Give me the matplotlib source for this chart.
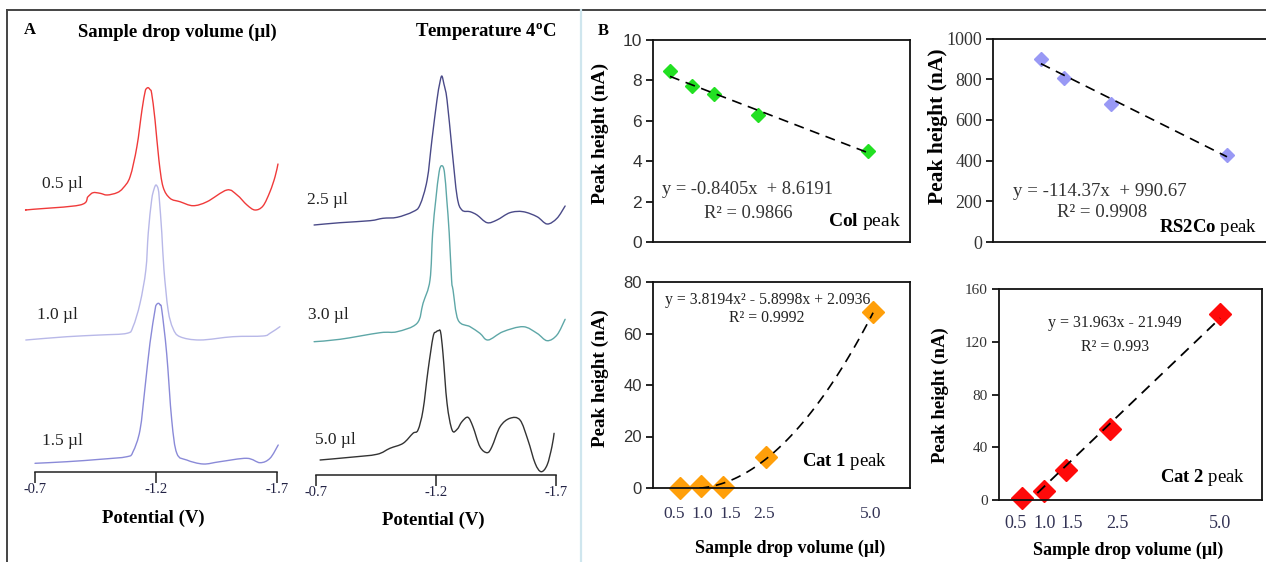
import numpy as np
import matplotlib
matplotlib.use("Agg")
import matplotlib.pyplot as plt
from matplotlib.lines import Line2D
from matplotlib.path import Path
from matplotlib.patches import PathPatch

plt.rcParams['font.family'] = ['Liberation Serif', 'DejaVu Serif']
plt.rcParams['mathtext.fontset'] = 'custom'
plt.rcParams['mathtext.rm'] = 'Liberation Serif'
plt.rcParams['mathtext.bf'] = 'Liberation Serif:bold'
plt.rcParams['mathtext.it'] = 'Liberation Serif:italic'

# ---------------- Panel A data (potential V, current a.u.) ----------------
pot_05 = [-0.662, -0.692, -0.886, -0.919, -0.940, -0.969, -0.998, -1.039, -1.064, -1.093,
          -1.121, -1.142, -1.155, -1.161, -1.168, -1.175, -1.182, -1.196, -1.212, -1.229,
          -1.258, -1.299, -1.353, -1.411, -1.493, -1.535, -1.576, -1.609, -1.642, -1.671,
          -1.692, -1.704]
cur_05 = [262, 262.7, 267, 275.3, 279.3, 278.7, 277, 279.3, 284, 295.3,
          325.3, 362, 380.3, 383.5, 384.3, 382.5, 378.7, 352, 312, 285.3,
          273.7, 270.3, 266.3, 270.3, 282, 277, 267, 262, 266, 280.3,
          295.3, 308]

pot_10 = [-0.662, -0.832, -0.969, -1.080, -1.105, -1.134, -1.158, -1.168, -1.182, -1.192,
          -1.200, -1.209, -1.214, -1.224, -1.233, -1.250, -1.270, -1.299, -1.382, -1.518,
          -1.642, -1.671, -1.712]
cur_10 = [132, 135.3, 137, 138.7, 145.3, 168.7, 202, 239, 272, 283,
          287, 283, 272, 239, 202, 162, 143.7, 135.3, 132, 135.3,
          136, 138.7, 145.3]

pot_15 = [-0.700, -0.832, -0.969, -1.080, -1.105, -1.134, -1.155, -1.175, -1.196, -1.201,
          -1.210, -1.217, -1.224, -1.244, -1.265, -1.286, -1.327, -1.395, -1.464, -1.575,
          -1.630, -1.671, -1.705]
cur_15 = [8.7, 10.3, 12.7, 15.3, 20.3, 42, 85.3, 128.7, 162, 167,
          168.7, 167, 162, 118.7, 52, 18.7, 12, 8, 10.3, 13.7,
          9.3, 13.7, 27]

pot_25 = [-0.692, -0.800, -0.925, -0.979, -1.038, -1.104, -1.133, -1.163, -1.183, -1.204,
          -1.215, -1.224, -1.233, -1.246, -1.267, -1.288, -1.308, -1.342, -1.371, -1.413,
          -1.454, -1.508, -1.563, -1.621, -1.663, -1.704, -1.738]
cur_25 = [250, 252.3, 254.3, 256.7, 257.7, 263.3, 270, 295, 335, 375,
          391, 399, 391, 375, 325, 278.3, 265, 263.3, 260, 252.3,
          255, 262.3, 263.3, 258.3, 251, 256.7, 269]

pot_30 = [-0.692, -0.800, -0.967, -1.038, -1.121, -1.146, -1.175, -1.186, -1.199, -1.213,
          -1.224, -1.235, -1.245, -1.255, -1.265, -1.271, -1.292, -1.342, -1.383, -1.417,
          -1.479, -1.563, -1.621, -1.663, -1.704, -1.738]
cur_30 = [133.3, 135.7, 142.3, 143.3, 151.7, 171.7, 195, 242, 275, 303,
          309.3, 303, 275, 242, 195, 185, 155, 148.3, 141.7, 135,
          143.3, 148.3, 141.7, 134.3, 140, 155.7]

pot_50 = [-0.717, -0.842, -0.954, -1.008, -1.063, -1.104, -1.125, -1.146, -1.167, -1.188,
          -1.200, -1.210, -1.219, -1.229, -1.246, -1.267, -1.288, -1.308, -1.333, -1.354,
          -1.383, -1.413, -1.433, -1.467, -1.508, -1.550, -1.583, -1.613, -1.638, -1.663,
          -1.683, -1.692]
cur_50 = [15, 17.7, 20.7, 26.7, 31.7, 41.7, 45, 65, 105, 138.3,
          143, 144.3, 143, 121.7, 71.7, 45, 45.7, 53.3, 57.7, 48.3,
          28.3, 22.3, 28.3, 48.3, 56.7, 55, 35, 11.7, 3.3, 10,
          28.3, 41.7]

left_labels = ["0.5 µl", "1.0 µl", "1.5 µl"]
right_labels = ["2.5 µl", "3.0 µl", "5.0 µl"]
pot_ticks = [-0.7, -1.2, -1.7]
pot_ticklabels = ["-0.7", "-1.2", "-1.7"]

# ---------------- Panel B data ----------------
vol_col = [0.5, 1.0, 1.5, 2.5, 5.0]
col_peak = [8.45, 7.7, 7.35, 6.3, 4.5]
vol_rs2co = [1.0, 1.5, 2.5, 5.0]
rs2co_peak = [900, 805, 680, 428]
vol_cat = [0.5, 1.0, 1.5, 2.5, 5.0]
cat1_peak = [0.0, 0.8, 0.4, 12.0, 68.3]
cat2_peak = [1.5, 6.5, 22.5, 53.5, 141]
vol_ticklabels = ["0.5", "1.0", "1.5", "2.5", "5.0"]

col_fit = (-0.8405, 8.6191)
rs2co_fit = (-114.37, 990.67)
cat1_fit = (3.8194, -5.8998, 2.0936)
cat2_fit = (31.963, -21.949)

W, H = 1266, 562
fig = plt.figure(figsize=(W / 100, H / 100), dpi=100)


def rect(l, t, r, b):
    return [l / W, 1 - b / H, (r - l) / W, (b - t) / H]


def ftxt(x, y, s, **kw):
    return fig.text(x / W, 1 - y / H, s, **kw)


def smooth_line(ax, xs, ys, color, lw=1.0):
    """Draw the read points joined by a smooth (Catmull-Rom style) Bezier path."""
    p = np.column_stack([xs, ys]).astype(float)
    n = len(p)
    verts = [p[0]]
    codes = [Path.MOVETO]
    for i in range(n - 1):
        p0 = p[i - 1] if i > 0 else p[i]
        p1 = p[i]
        p2 = p[i + 1]
        p3 = p[i + 2] if i + 2 < n else p[i + 1]
        c1 = p1 + (p2 - p0) / 6.0
        c2 = p2 - (p3 - p1) / 6.0
        verts += [c1, c2, p2]
        codes += [Path.CURVE4] * 3
    patch = PathPatch(Path(verts, codes), fill=False, edgecolor=color, lw=lw,
                      clip_on=False, capstyle='round', joinstyle='round')
    ax.add_patch(patch)


# frame lines
fig.add_artist(Line2D([7 / W, 1], [1 - 10 / H, 1 - 10 / H], color='#444444', lw=1.4))
fig.add_artist(Line2D([7 / W, 7 / W], [0, 1 - 10 / H], color='#444444', lw=1.4))
fig.add_artist(Line2D([581 / W, 581 / W], [0, 1 - 10 / H], color='#cfe6ee', lw=1.6))

# ---------------- Panel A ----------------
def volt_axes(l, r, px0, px1, top, bottom):
    ax = fig.add_axes(rect(l, top, r, bottom))
    scale = (px1 - px0) / 1.0
    ax.set_xlim(-0.7 - (l - px0) / scale, -0.7 - (r - px0) / scale)
    ax.set_ylim(0, bottom - top)
    for s in ['top', 'right', 'left']:
        ax.spines[s].set_visible(False)
    ax.spines['bottom'].set_bounds(-1.7, -0.7)
    ax.spines['bottom'].set_linewidth(1.1)
    ax.spines['bottom'].set_color('#222222')
    ax.set_yticks([])
    ax.set_xticks(pot_ticks)
    ax.set_xticklabels(pot_ticklabels, fontsize=10.5, color='#222244')
    ax.tick_params(axis='x', direction='out', length=8, width=1.1, pad=0, color='#222222')
    ax.patch.set_alpha(0)
    return ax


axL = volt_axes(20, 290, 35, 277, 60, 472)
smooth_line(axL, pot_05, cur_05, '#f03a3a')
smooth_line(axL, pot_10, cur_10, '#b8b8e8')
smooth_line(axL, pot_15, cur_15, '#8a8ad8')

axR = volt_axes(300, 575, 316, 556, 60, 475)
smooth_line(axR, pot_25, cur_25, '#4a4a88')
smooth_line(axR, pot_30, cur_30, '#5ea7a7')
smooth_line(axR, pot_50, cur_50, '#333333')

ftxt(30, 30, "A", fontsize=12, fontweight='bold', ha='center', va='center')
ftxt(177, 32, "Sample drop volume (µl)", fontsize=13.5, fontweight='bold', ha='center', va='center')
ftxt(557, 31, r"Temperature 4$^{\mathbf{o}}$C", fontsize=13.5, fontweight='bold', ha='right', va='center')

for (x, y), s in zip([(42, 184), (37, 315), (42, 441)], left_labels):
    ftxt(x, y, s, fontsize=12.5, ha='left', va='center', color='#222222')
for (x, y), s in zip([(307, 200), (308, 315), (315, 440)], right_labels):
    ftxt(x, y, s, fontsize=12.5, ha='left', va='center', color='#222222')

ftxt(153, 518, "Potential (V)", fontsize=13.5, fontweight='bold', ha='center', va='center')
ftxt(433, 520, "Potential (V)", fontsize=13.5, fontweight='bold', ha='center', va='center')

# ---------------- Panel B ----------------
ftxt(603, 31, "B", fontsize=12, fontweight='bold', ha='center', va='center')

dash = (0, (6, 4))


def style_b(ax, ylim, yticks, tickfont, tickfs):
    ax.set_ylim(*ylim)
    ax.set_yticks(yticks)
    ax.set_yticklabels([str(v) for v in yticks], family=tickfont, fontsize=tickfs, color='#333333')
    ax.tick_params(axis='y', direction='out', length=5, width=1.2, pad=3)
    for s in ax.spines.values():
        s.set_linewidth(1.3)
        s.set_color('#111111')


# Col peak
ax1 = fig.add_axes(rect(653, 40, 910, 242))
ax1.set_xlim(0.114, 5.95)
ax1.set_xticks([])
style_b(ax1, (0, 10), [0, 2, 4, 6, 8, 10], ['Liberation Sans'], 12.5)
ax1.plot(vol_col, col_peak, ls='none', marker='D', ms=7, color='#22e022', mec='#22e022')
xf = np.array([vol_col[0], vol_col[-1]])
ax1.plot(xf, col_fit[0] * xf + col_fit[1], color='black', lw=1.2, ls=dash, zorder=3)
ftxt(600, 133, "Peak height (nA)", fontsize=14, fontweight='bold', rotation=90, ha='center', va='center')
ftxt(747, 190, "y = -0.8405x  + 8.6191", fontsize=13.3, ha='center', va='center', color='#333333')
ftxt(748, 214, "R² = 0.9866", fontsize=13.3, ha='center', va='center', color='#333333')
ftxt(901, 222, r"$\mathbf{Col}$ peak", fontsize=14, ha='right', va='center')

# RS2Co peak
ax2 = fig.add_axes(rect(993, 38.5, 1275, 242))
ax2.set_xlim(-0.03, (1275 - 994.5) / 46.5)
ax2.set_xticks([])
style_b(ax2, (0, 1000), [0, 200, 400, 600, 800, 1000], ['Liberation Serif'], 13)
ax2.plot(vol_rs2co, rs2co_peak, ls='none', marker='D', ms=7, color='#9999f5', mec='#9999f5')
xf = np.array([vol_rs2co[0], vol_rs2co[-1]])
ax2.plot(xf, rs2co_fit[0] * xf + rs2co_fit[1], color='black', lw=1.2, ls=dash, zorder=3)
ftxt(938, 126, "Peak height (nA)", fontsize=15.5, fontweight='bold', rotation=90, ha='center', va='center')
ftxt(1100, 192, "y = -114.37x  + 990.67", fontsize=13.6, ha='center', va='center', color='#333333')
ftxt(1102, 213, "R² = 0.9908", fontsize=13.6, ha='center', va='center', color='#333333')
ftxt(1257, 228, r"$\mathbf{RS2Co}$ peak", fontsize=13.5, ha='right', va='center')

# Cat 1 peak
ax3 = fig.add_axes(rect(653, 282, 910, 488))
ax3.set_xlim(-0.13, 5.86)
style_b(ax3, (0, 80), [0, 20, 40, 60, 80], ['Liberation Sans'], 12)
cat1_label_pos = [0.36, 1.02, 1.68, 2.45, 4.95]
ax3.set_xticks(cat1_label_pos)
ax3.set_xticklabels(vol_ticklabels, fontsize=12.5, color='#333355')
ax3.tick_params(axis='x', length=0, pad=13)
ax3.plot(vol_cat, cat1_peak, ls='none', marker='D', ms=11.5, color='#ff9f0a', mec='#ff9f0a', clip_on=False)
xf = np.linspace(0.95, 5.0, 60)
ax3.plot(xf, cat1_fit[0] * xf ** 2 + cat1_fit[1] * xf + cat1_fit[2], color='black', lw=1.2, ls=dash, zorder=3)
ftxt(600, 378, "Peak height (nA)", fontsize=13.8, fontweight='bold', rotation=90, ha='center', va='center')
ftxt(665, 300, "y = 3.8194x² - 5.8998x + 2.0936", fontsize=11.3, ha='left', va='center', color='#222222')
ftxt(767, 318, "R² = 0.9992", fontsize=11.3, ha='center', va='center', color='#222222')
ftxt(887, 462, r"$\mathbf{Cat\ 1}$ peak", fontsize=13.5, ha='right', va='center')
ftxt(790, 548, "Sample drop volume (µl)", fontsize=13, fontweight='bold', ha='center', va='center')

# Cat 2 peak
ax4 = fig.add_axes(rect(999, 289, 1262, 500))
ax4.set_xlim(-0.02, 5.95)
style_b(ax4, (0, 160), [0, 40, 80, 120, 160], ['Liberation Serif'], 11)
cat2_label_pos = [0.36, 1.02, 1.64, 2.66, 5.0]
ax4.set_xticks(cat2_label_pos)
ax4.set_xticklabels(vol_ticklabels, fontsize=13, color='#333355')
ax4.tick_params(axis='x', length=0, pad=11)
ax4.plot(vol_cat, cat2_peak, ls='none', marker='D', ms=11, color='#ff0a0a', mec='#ff0a0a', clip_on=False)
xf = np.array([0.85, 5.0])
ax4.plot(xf, cat2_fit[0] * xf + cat2_fit[1], color='black', lw=1.3, ls=dash, zorder=3)
ftxt(940, 395, "Peak height (nA)", fontsize=13.5, fontweight='bold', rotation=90, ha='center', va='center')
ftxt(1115, 323, "y = 31.963x - 21.949", fontsize=11.5, ha='center', va='center', color='#222222')
ftxt(1115, 347, "R² = 0.993", fontsize=11.5, ha='center', va='center', color='#222222')
ftxt(1245, 478, r"$\mathbf{Cat\ 2}$ peak", fontsize=13.5, ha='right', va='center')
ftxt(1128, 550, "Sample drop volume (µl)", fontsize=13, fontweight='bold', ha='center', va='center')

fig.savefig("out.png", dpi=100)
